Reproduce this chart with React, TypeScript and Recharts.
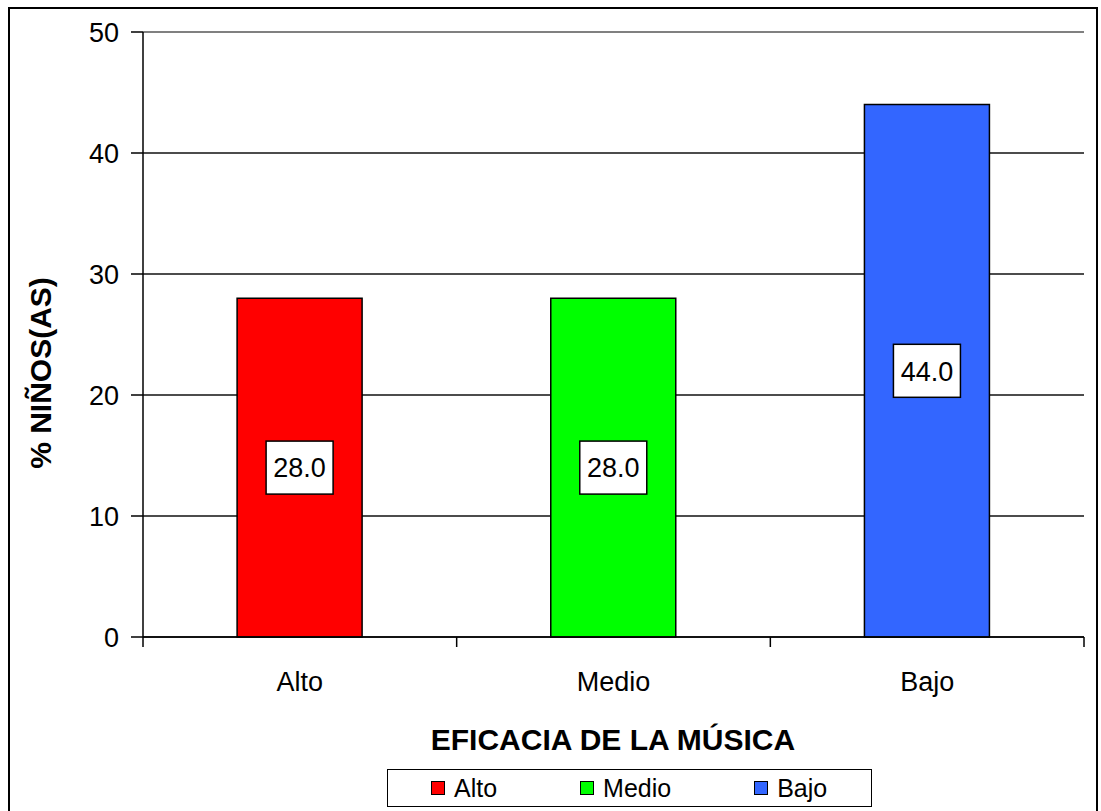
import React from "react";
import { BarChart, Bar, XAxis, YAxis, CartesianGrid, Cell, LabelList, ReferenceLine, Label } from "recharts";

const categories = ["Alto", "Medio", "Bajo"];
const values = [28.0, 28.0, 44.0];
const colors = ["#FF0000", "#00FF00", "#3366FF"];
const yTicks = [0, 10, 20, 30, 40, 50];
const xTitle = "EFICACIA DE LA MÚSICA";
const yTitle = "% NIÑOS(AS)";

const data = categories.map((c, i) => ({ name: c, value: values[i] }));

const FONT = "'Liberation Sans', Arial, sans-serif";

const CatTick = (props: any) => {
  const { x, y, payload, index, width, visibleTicksCount } = props;
  const band = width / visibleTicksCount;
  const axisY = y - 35;
  return (
    <g>
      <line x1={x - band / 2} x2={x - band / 2} y1={axisY} y2={axisY + 10} stroke="#000" strokeWidth={1.5} />
      {index === visibleTicksCount - 1 && (
        <line x1={x + band / 2} x2={x + band / 2} y1={axisY} y2={axisY + 10} stroke="#000" strokeWidth={1.5} />
      )}
      <text x={x} y={y} dy="0.71em" textAnchor="middle" fontSize={27} fontFamily={FONT} fill="#000">
        {payload.value}
      </text>
    </g>
  );
};

const ValueLabel = (props: any) => {
  const { x, y, width, height, value } = props;
  const cx = x + width / 2;
  const cy = y + height / 2;
  const bw = 67;
  const bh = 53;
  return (
    <g>
      <rect x={cx - bw / 2} y={cy - bh / 2} width={bw} height={bh} fill="#fff" stroke="#000" strokeWidth={1.5} />
      <text x={cx} y={cy} dy="0.36em" textAnchor="middle" fontSize={27} fontFamily={FONT} fill="#000">
        {Number(value).toFixed(1)}
      </text>
    </g>
  );
};

export default function App() {
  return (
    <div style={{ position: "absolute", left: 0, top: 0, width: 1101, height: 811, background: "#fff", overflow: "hidden", fontFamily: FONT }}>
      <div style={{ position: "absolute", left: 8, top: 7, width: 1090, height: 830, border: "2px solid #000", boxSizing: "border-box" }} />
      <div style={{ position: "absolute", left: 0, top: 0 }}>
        <BarChart width={1101} height={811} data={data} margin={{ top: 32, right: 17, left: 83, bottom: 114 }} barCategoryGap="30%">
          <CartesianGrid vertical={false} stroke="#111" strokeWidth={1.6} />
          <XAxis
            dataKey="name"
            height={60}
            axisLine={{ stroke: "#000", strokeWidth: 1.5 }}
            tickLine={false}
            tickSize={0}
            tickMargin={35}
            tick={<CatTick />}
            interval={0}
          >
            <Label
              content={() => (
                <text x={613} y={739} dy="0.36em" textAnchor="middle" fontSize={30} fontWeight="bold" fontFamily={FONT} fill="#000">
                  {xTitle}
                </text>
              )}
            />
          </XAxis>
          <YAxis
            width={60}
            domain={[0, 50]}
            ticks={yTicks}
            interval={0}
            axisLine={{ stroke: "#000", strokeWidth: 1.5 }}
            tickLine={{ stroke: "#000", strokeWidth: 1.5 }}
            tickSize={12}
            tickMargin={12}
            tick={{ fontSize: 27, fontFamily: FONT, fill: "#000" }}
          >
            <Label
              content={() => (
                <text x={40} y={373} dy="0.36em" textAnchor="middle" transform="rotate(-90 40 373)" fontSize={30} fontWeight="bold" fontFamily={FONT} fill="#000">
                  {yTitle}
                </text>
              )}
            />
          </YAxis>
          <YAxis yAxisId="right" orientation="right" width={0} domain={[0, 50]} tick={false} tickLine={false} axisLine={{ stroke: "#808080", strokeWidth: 2 }} />
          <ReferenceLine y={50} stroke="#808080" strokeWidth={2} />
          <Bar dataKey="value" isAnimationActive={false} stroke="#000" strokeWidth={1.5}>
            {data.map((d, i) => (
              <Cell key={d.name} fill={colors[i]} />
            ))}
            <LabelList dataKey="value" content={<ValueLabel />} />
          </Bar>
        </BarChart>
      </div>
      <div
        style={{
          position: "absolute",
          left: 387,
          top: 769,
          width: 485,
          height: 38,
          border: "1.5px solid #000",
          boxSizing: "border-box",
          display: "flex",
          alignItems: "center",
          paddingLeft: 43,
          fontSize: 25,
          fontFamily: FONT,
          color: "#000",
        }}
      >
        {categories.map((c, i) => (
          <div key={c} style={{ display: "flex", alignItems: "center", marginRight: 83 }}>
            <div style={{ width: 14, height: 14, background: colors[i], border: "1.5px solid #000", boxSizing: "border-box", marginRight: 9 }} />
            <span>{c}</span>
          </div>
        ))}
      </div>
    </div>
  );
}
